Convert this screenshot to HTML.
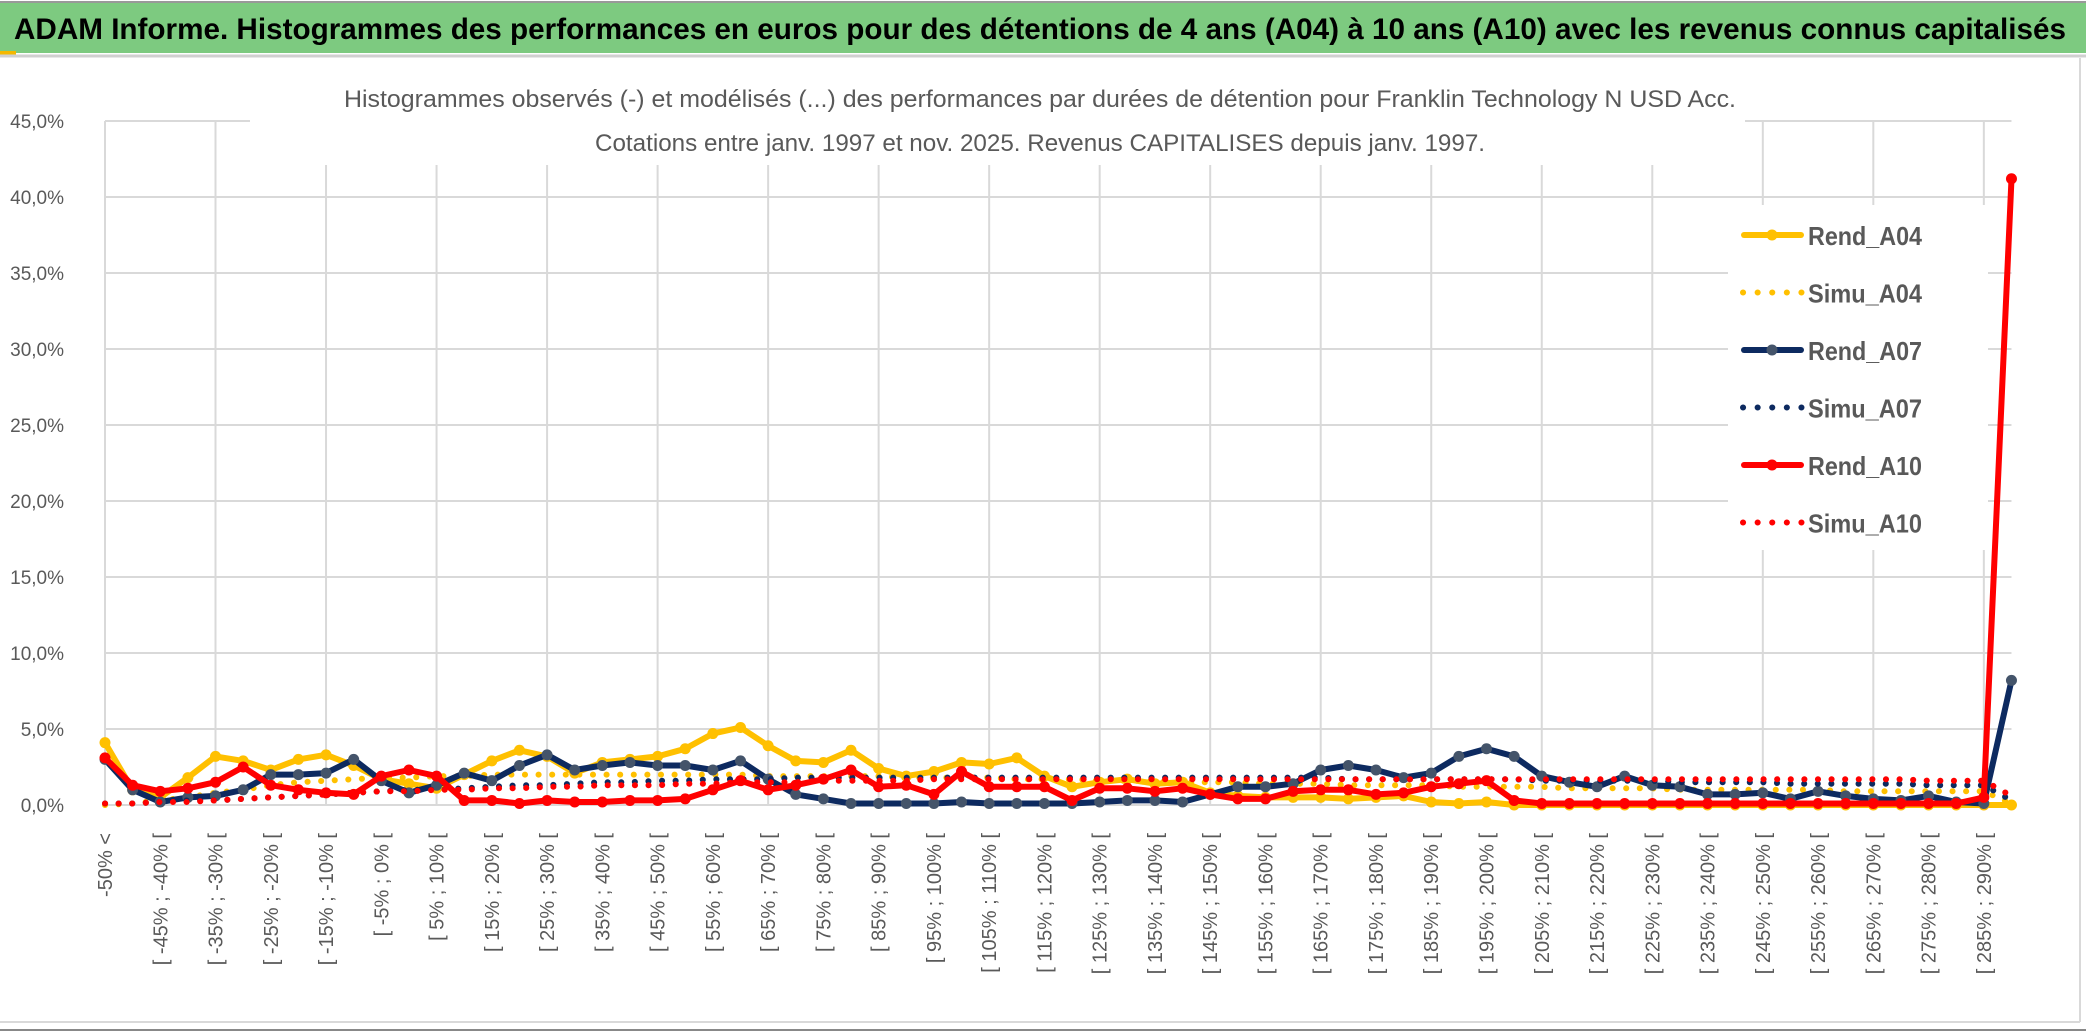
<!DOCTYPE html>
<html><head><meta charset="utf-8"><style>
html,body{margin:0;padding:0;background:#fff;}
svg{display:block;font-family:"Liberation Sans",sans-serif;}
</style></head><body>
<svg id="chart" width="2086" height="1033" viewBox="0 0 2086 1033" xmlns="http://www.w3.org/2000/svg">
<rect x="0" y="0" width="2086" height="1033" fill="#fff"/>
<rect x="0" y="3" width="2086" height="50" fill="#7dca80"/>
<line x1="0" y1="2" x2="2086" y2="2" stroke="#999" stroke-width="2"/>
<rect x="0" y="51" width="16" height="4" fill="#f5b800"/>
<line x1="0" y1="56" x2="2086" y2="56" stroke="#d0d0d0" stroke-width="3"/>
<text x="14" y="39" font-size="30" font-weight="bold" fill="#000" textLength="2052" lengthAdjust="spacingAndGlyphs">ADAM Informe. Histogrammes des performances en euros pour des détentions de 4 ans (A04) à 10 ans (A10) avec les revenus connus capitalisés</text>
<line x1="2080" y1="58" x2="2080" y2="1022" stroke="#d9d9d9" stroke-width="2"/>
<line x1="0" y1="1022" x2="2080" y2="1022" stroke="#d9d9d9" stroke-width="2"/>
<line x1="0" y1="1030" x2="2086" y2="1030" stroke="#888" stroke-width="2"/>
<g id="grid"></g>
<rect x="250" y="60" width="1495" height="105" fill="#fff"/>
<text x="1040" y="107" font-size="24" fill="#595959" text-anchor="middle" textLength="1392" lengthAdjust="spacingAndGlyphs">Histogrammes observés (-) et modélisés (...) des performances par durées de détention pour Franklin Technology N USD Acc.</text>
<text x="1040" y="151" font-size="24" fill="#595959" text-anchor="middle" textLength="890" lengthAdjust="spacingAndGlyphs">Cotations entre janv. 1997 et nov. 2025. Revenus CAPITALISES depuis janv. 1997.</text>
<g id="yaxis"></g>
<g id="xaxis"></g>
<rect x="1728" y="205" width="260" height="345" fill="#fff"/>
<g id="series"></g>
<g id="legend"></g>
</svg>
<script>
const categoryTicks = ["-50% <","[ -45% ; -40% [","[ -35% ; -30% [","[ -25% ; -20% [","[ -15% ; -10% [","[ -5% ; 0% [","[ 5% ; 10% [","[ 15% ; 20% [","[ 25% ; 30% [","[ 35% ; 40% [","[ 45% ; 50% [","[ 55% ; 60% [","[ 65% ; 70% [","[ 75% ; 80% [","[ 85% ; 90% [","[ 95% ; 100% [","[ 105% ; 110% [","[ 115% ; 120% [","[ 125% ; 130% [","[ 135% ; 140% [","[ 145% ; 150% [","[ 155% ; 160% [","[ 165% ; 170% [","[ 175% ; 180% [","[ 185% ; 190% [","[ 195% ; 200% [","[ 205% ; 210% [","[ 215% ; 220% [","[ 225% ; 230% [","[ 235% ; 240% [","[ 245% ; 250% [","[ 255% ; 260% [","[ 265% ; 270% [","[ 275% ; 280% [","[ 285% ; 290% ["];
const yTicks = [0,5,10,15,20,25,30,35,40,45];
const yTickLabels = ["0,0%","5,0%","10,0%","15,0%","20,0%","25,0%","30,0%","35,0%","40,0%","45,0%"];
const rendA04 = [4.1,1.0,0.5,1.8,3.2,2.9,2.3,3.0,3.3,2.6,1.7,1.4,1.1,2.0,2.9,3.6,3.2,2.1,
 2.8,3.0,3.2,3.7,4.7,5.1,3.9,2.9,2.8,3.6,2.4,1.9,2.2,2.8,2.7,3.1,1.9,1.2,
 1.5,1.7,1.4,1.5,0.8,0.6,0.5,0.5,0.5,0.4,0.5,0.6,0.2,0.1,0.2,0.0,0.0,0.0,
 0.0,0.0,0.0,0.0,0.0,0.0,0.0,0.0,0.0,0.0,0.0,0.0,0.0,0.0,0.0,0.0];
const simuA04 = [0.0,0.1,0.3,0.5,0.8,1.0,1.3,1.5,1.6,1.7,1.8,1.8,1.9,1.9,2.0,2.0,2.0,2.0,
 2.0,2.0,2.0,2.0,2.0,2.0,1.9,1.9,1.9,1.9,1.9,1.8,1.8,1.8,1.8,1.7,1.7,1.7,
 1.6,1.6,1.6,1.5,1.5,1.5,1.4,1.4,1.4,1.3,1.3,1.3,1.3,1.2,1.2,1.2,1.2,1.1,
 1.1,1.1,1.1,1.0,1.0,1.0,1.0,1.0,1.0,0.9,0.9,0.9,0.9,0.9,0.9,0.1];
const rendA07 = [3.0,1.0,0.2,0.5,0.6,1.0,2.0,2.0,2.1,3.0,1.6,0.8,1.3,2.1,1.6,2.6,3.3,2.3,
 2.6,2.8,2.6,2.6,2.3,2.9,1.7,0.7,0.4,0.1,0.1,0.1,0.1,0.2,0.1,0.1,0.1,0.1,
 0.2,0.3,0.3,0.2,0.7,1.2,1.2,1.4,2.3,2.6,2.3,1.8,2.1,3.2,3.7,3.2,1.9,1.5,
 1.2,1.9,1.3,1.2,0.7,0.7,0.8,0.4,0.9,0.6,0.4,0.3,0.6,0.2,0.1,8.2];
const simuA07 = [0.1,0.1,0.2,0.3,0.3,0.4,0.5,0.6,0.7,0.8,0.9,1.0,1.0,1.1,1.2,1.3,1.3,1.4,
 1.5,1.5,1.6,1.6,1.7,1.7,1.7,1.8,1.8,1.8,1.8,1.8,1.8,1.8,1.8,1.8,1.8,1.8,
 1.8,1.8,1.8,1.8,1.8,1.8,1.8,1.8,1.8,1.7,1.7,1.7,1.7,1.7,1.7,1.7,1.6,1.6,
 1.6,1.6,1.6,1.5,1.5,1.5,1.5,1.4,1.4,1.4,1.4,1.4,1.3,1.3,1.3,0.3];
const rendA10 = [3.1,1.3,0.9,1.1,1.5,2.5,1.3,1.0,0.8,0.7,1.9,2.3,1.9,0.3,0.3,0.1,0.3,0.2,
 0.2,0.3,0.3,0.4,1.0,1.6,1.0,1.3,1.7,2.3,1.2,1.3,0.7,2.2,1.2,1.2,1.2,0.3,
 1.1,1.1,0.9,1.1,0.7,0.4,0.4,0.9,1.0,1.0,0.7,0.8,1.2,1.4,1.6,0.3,0.1,0.1,
 0.1,0.1,0.1,0.1,0.1,0.1,0.1,0.1,0.1,0.1,0.1,0.1,0.1,0.1,0.5,41.2];
const simuA10 = [0.1,0.1,0.2,0.2,0.3,0.4,0.5,0.6,0.7,0.8,0.9,0.9,1.0,1.0,1.1,1.1,1.2,1.2,
 1.3,1.3,1.3,1.4,1.4,1.5,1.5,1.5,1.6,1.6,1.6,1.6,1.7,1.7,1.7,1.7,1.7,1.7,
 1.7,1.7,1.7,1.7,1.7,1.7,1.7,1.7,1.7,1.7,1.7,1.7,1.7,1.7,1.7,1.7,1.7,1.7,
 1.7,1.7,1.7,1.7,1.7,1.7,1.7,1.7,1.7,1.7,1.7,1.7,1.6,1.6,1.6,0.6];
const seriesNames = ["Rend_A04","Simu_A04","Rend_A07","Simu_A07","Rend_A10","Simu_A10"];

const NS = "http://www.w3.org/2000/svg";
const N = rendA04.length;
const X0 = 105, STEP = 27.63, Y0 = 805, PER = 15.2;
function xs(i){ return X0 + STEP*i; }
function ys(v){ return Y0 - PER*v; }
function mk(tag, attrs, parent){ const e=document.createElementNS(NS,tag); for(const k in attrs) e.setAttribute(k,attrs[k]); parent.appendChild(e); return e; }

const grid = document.getElementById('grid');
const xEnd = xs(N-1);
yTicks.forEach(function(t){
  const l = mk('line',{x1:X0,x2:xEnd,y1:ys(t),y2:ys(t),stroke:'#d9d9d9','stroke-width':2},grid);
  
  
});
for(let i=0;i<N;i+=4){
  const l = mk('line',{x1:xs(i),x2:xs(i),y1:ys(45),y2:ys(0),stroke:'#d9d9d9','stroke-width':2},grid);
  
  
}
const ya = document.getElementById('yaxis');
yTicks.forEach(function(t,k){
  const tx = mk('text',{x:64,y:ys(t)+7,'font-size':19,fill:'#595959','text-anchor':'end'},ya);
  tx.textContent = yTickLabels[k];
  
  
});
const xa = document.getElementById('xaxis');
categoryTicks.forEach(function(lbl,k){
  const cx = xs(k*2)+7, cy = 833;
  const tx = mk('text',{x:cx,y:cy,'font-size':20,fill:'#595959','text-anchor':'end',transform:'rotate(-90 '+cx+' '+cy+')'},xa);
  tx.textContent = lbl;
  
  
});

const sg = document.getElementById('series');
function pts(arr){ return arr.map(function(v,i){ return xs(i).toFixed(1)+','+ys(v).toFixed(1); }).join(' '); }
function solid(arr,color,mcolor,name){
  const g = mk('g',{},sg);
  
  
  mk('polyline',{points:pts(arr),fill:'none',stroke:color,'stroke-width':6,'stroke-linejoin':'round'},g);
  arr.forEach(function(v,i){
    const c = mk('circle',{cx:xs(i),cy:ys(v),r:5.5,fill:mcolor},g);
    
    
  });
}
function dotted(arr,color,name){
  const p = mk('polyline',{points:pts(arr),fill:'none',stroke:color,'stroke-width':6,'stroke-linecap':'round','stroke-dasharray':'0.1 13.5'},sg);
  
  
}
solid(rendA04,'#ffc000','#ffc000','series-rend-a04');
dotted(simuA04,'#ffc000','series-simu-a04');
solid(rendA07,'#0d2a60','#44546a','series-rend-a07');
dotted(simuA07,'#0d2a60','series-simu-a07');
solid(rendA10,'#ff0000','#ff0000','series-rend-a10');
dotted(simuA10,'#ff0000','series-simu-a10');

const lg = document.getElementById('legend');
const legColors = ['#ffc000','#ffc000','#0d2a60','#0d2a60','#ff0000','#ff0000'];
const legMarker = ['#ffc000',null,'#44546a',null,'#ff0000',null];
seriesNames.forEach(function(nm,k){
  const y = 235 + 57.5*k;
  const g = mk('g',{},lg);
  
  
  if(legMarker[k]){
    mk('line',{x1:1744,x2:1801,y1:y,y2:y,stroke:legColors[k],'stroke-width':6,'stroke-linecap':'round'},g);
    mk('circle',{cx:1772,cy:y,r:5.5,fill:legMarker[k]},g);
  } else {
    mk('line',{x1:1743,x2:1802,y1:y,y2:y,stroke:legColors[k],'stroke-width':6,'stroke-linecap':'round','stroke-dasharray':'0.1 14.5'},g);
  }
  const t = mk('text',{x:1808,y:y+10,'font-size':26,fill:'#595959','font-weight':'bold',textLength:114,lengthAdjust:'spacingAndGlyphs'},g);
  t.textContent = nm;
});
</script>
</body></html>
